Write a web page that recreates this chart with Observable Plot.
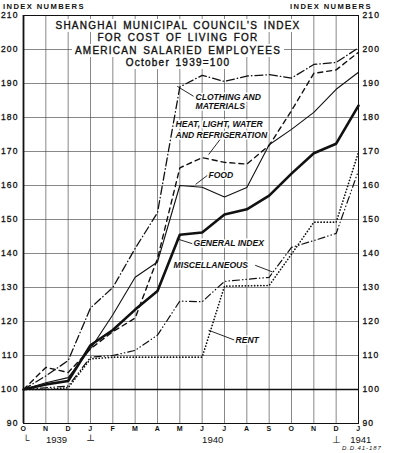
<!DOCTYPE html>
<html><head><meta charset="utf-8">
<script src="https://cdn.jsdelivr.net/npm/d3@7"></script>
<script src="https://cdn.jsdelivr.net/npm/@observablehq/plot@0.6"></script>
<style>
body{margin:0;background:#fff;}
#wrap{position:relative;width:398px;height:453px;overflow:hidden;font-family:"Liberation Sans",Arial,sans-serif;color:#111;}
#wrap svg{display:block;}
.ov{position:absolute;white-space:nowrap;}
#title{left:0;width:356px;top:20px;text-align:center;font-size:10px;line-height:12.4px;letter-spacing:1.25px;word-spacing:1.5px;-webkit-text-stroke:0.35px #111;}
#title span{background:#fff;padding:1px 3px;}
.idx{top:2px;font-size:7.6px;font-weight:bold;letter-spacing:1.4px;}
#credit{left:342px;top:445px;font-size:6px;font-style:italic;letter-spacing:0.9px;}
</style>
</head><body>
<div id="wrap">
  <div id="chart"></div>
  <div class="ov" id="title">
    <div><span>SHANGHAI MUNICIPAL COUNCIL'S INDEX</span></div>
    <div><span>FOR COST OF LIVING FOR</span></div>
    <div><span>AMERICAN SALARIED EMPLOYEES</span></div>
    <div><span>October 1939=100</span></div>
  </div>
  <div class="ov idx" style="left:3px;">INDEX NUMBERS</div>
  <div class="ov idx" style="left:290px;">INDEX NUMBERS</div>
  <div class="ov" id="credit">D.D.41-187</div>
</div>
<script>
// Month labels, Oct 1939 .. Jan 1941
const months = ["O","N","D","J","F","M","A","M","J","J","A","S","O","N","D","J"];
const yTicks = [90,100,110,120,130,140,150,160,170,180,190,200,210];

// Series values (index, Oct 1939 = 100)
const generalIndex = [100, 101.5, 102.5, 113, 117.5, 123.5, 129, 145.5, 146.2, 151.5, 153, 157, 163.5, 169.5, 172.3, 183.5];
const food         = [100, 102, 103.5, 112, 122, 133, 137.5, 160, 159.5, 156.6, 159.4, 172, 176.5, 181.5, 188.3, 193.3];
const clothing     = [100, 104, 108.5, 124, 130, 141.5, 152, 189, 192.4, 190.6, 192.2, 192.6, 191.6, 195.6, 196.2, 200.5];
const heatLight    = [100, 106.5, 105, 112, 117, 121, 138.5, 165.2, 168.2, 166.8, 166.3, 171.8, 182, 193, 194, 199.2];
const miscellaneous= [100, 100.5, 101, 109.5, 110, 111.5, 116, 126, 125.8, 131.8, 132.4, 133, 141.8, 143.8, 145.9, 164.4];
const rent         = [100, 100, 100.5, 109, 109.5, 109.5, 109.5, 109.5, 109.5, 130.4, 130.5, 130.6, 139.8, 149.2, 149.2, 169.8];

// Series labels (position in data space)
const noteText = ["CLOTHING AND","MATERIALS","HEAT, LIGHT, WATER","AND REFRIGERATION","FOOD","GENERAL INDEX","MISCELLANEOUS","RENT"];
const noteX    = [7.70, 7.70, 6.81, 6.81, 8.28, 7.61, 6.72, 9.49];
const noteY    = [186.0, 183.3, 177.9, 174.9, 162.9, 142.9, 136.5, 114.6];

// Leader lines from labels to series
const leadX1 = [7.60, 8.82, 8.22, 7.55, 10.39, 9.42];
const leadY1 = [186.3, 173.7, 162.9, 142.9, 136.5, 114.6];
const leadX2 = [6.90, 8.30, 7.72, 6.88, 11.14, 8.30];
const leadY2 = [189.1, 169.2, 160.4, 144.3, 134.6, 117.4];
const leadBend = [-25, 25, -20, 15, 30, -15];

// Year labels under the axis
const yearText = ["└", "1939", "┴", "1940", "⊥", "1941"];
const yearX    = [0.12, 1.48, 3, 8.47, 14, 15.1];

const rows = vals => vals.map((v, i) => ({i, v}));
const notes = noteText.map((t, k) => ({t, x: noteX[k], y: noteY[k]}));
const leads = leadX1.map((x1, k) => ({x1, y1: leadY1[k], x2: leadX2[k], y2: leadY2[k], b: leadBend[k]}));
const years = yearText.map((t, k) => ({t, x: yearX[k]}));

const gridStyle = {stroke: "#444", strokeOpacity: 0.8, strokeWidth: 0.8};

const chart = Plot.plot({
  width: 398, height: 453,
  marginLeft: 23, marginRight: 40, marginTop: 15, marginBottom: 30,
  x: {type: "linear", domain: [0, 15]},
  y: {domain: [90, 210]},
  style: {fontFamily: "'Liberation Sans', Arial, sans-serif", background: "white", color: "#111"},
  marks: [
    Plot.gridX(d3.range(16), gridStyle),
    Plot.gridY(yTicks, gridStyle),
    Plot.ruleY([100], {strokeWidth: 1.5}),
    Plot.ruleX([0], {strokeWidth: 1.8}),
    Plot.frame({strokeWidth: 1}),
    Plot.axisY(yTicks, {anchor: "left", tickSize: 0, tickPadding: 5, label: null, fontSize: 8.5}),
    Plot.axisY(yTicks, {anchor: "right", tickSize: 0, tickPadding: 4, label: null, fontSize: 8.5}),
    Plot.axisX(d3.range(16), {anchor: "bottom", tickSize: 0, tickPadding: 3, label: null, tickFormat: i => months[i], fontSize: 7, fontWeight: "bold"}),
    Plot.text(years, {x: "x", text: "t", frameAnchor: "bottom", dy: 19, fontSize: 9.5, ariaLabel: "years"}),
    Plot.line(rows(rent), {x: "i", y: "v", strokeWidth: 1.7, strokeDasharray: "0.1,3"}),
    Plot.line(rows(miscellaneous), {x: "i", y: "v", strokeWidth: 1.2, strokeDasharray: "7,3,0.5,3,0.5,3"}),
    Plot.line(rows(heatLight), {x: "i", y: "v", strokeWidth: 1.4, strokeDasharray: "5,4"}),
    Plot.line(rows(clothing), {x: "i", y: "v", strokeWidth: 1.3, strokeDasharray: "8,3,0.5,3"}),
    Plot.line(rows(food), {x: "i", y: "v", strokeWidth: 1.1}),
    Plot.line(rows(generalIndex), {x: "i", y: "v", strokeWidth: 2.6}),
    Plot.arrow(leads, {x1: "x1", y1: "y1", x2: "x2", y2: "y2", bend: d => d.b, headLength: 4, strokeWidth: 0.9}),
    Plot.text(notes, {x: "x", y: "y", text: "t", textAnchor: "start", fontSize: 8.6, fontStyle: "italic", fontWeight: "bold", stroke: "white", strokeWidth: 3, fill: "#111", ariaLabel: "notes"})
  ]
});
const svg = d3.select(chart);
svg.selectAll('[aria-label="notes"] text').style("letter-spacing", "2px");
svg.selectAll('[aria-label="y-axis tick label"] text')
  .style("letter-spacing", "1.1px").style("stroke", "#111").style("stroke-width", "0.3px");
svg.selectAll('[aria-label="x-axis tick label"] text').style("letter-spacing", "0.5px");
svg.selectAll('[aria-label="years"] text').style("letter-spacing", "1.1px").style("stroke", "#111").style("stroke-width", "0.3px");
document.getElementById("chart").appendChild(chart);
</script>
</body></html>
